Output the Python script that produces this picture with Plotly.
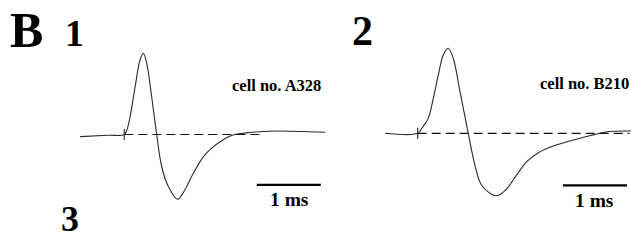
import plotly.graph_objects as go

# ---------------- data ----------------
# time in ms relative to stimulus/onset tick, amplitude in normalised units
cell_ids = ["A328", "B210"]
panel_labels = ["1", "2", "3"]
figure_letter = "B"
scale_label = "1 ms"

t1 = [-0.69, -0.26, 0.0, 0.04, 0.09, 0.17, 0.245, 0.297, 0.35, 0.428, 0.506,
      0.584, 0.688, 0.834, 0.948, 1.078, 1.234, 1.339, 1.495, 1.70, 1.91,
      2.12, 2.355, 3.14]
a1 = [-0.027, -0.01, 0.0, 0.056, 0.22, 0.60, 0.93, 1.015, 0.89, 0.47, 0.0,
      -0.40, -0.65, -0.81, -0.69, -0.485, -0.28, -0.19, -0.09, -0.006, 0.02,
      0.035, 0.044, 0.028]

t2 = [-0.51, 0.0, 0.07, 0.166, 0.244, 0.322, 0.40, 0.478, 0.556, 0.661,
      0.79, 0.895, 1.0, 1.22, 1.36, 1.547, 1.703, 1.911, 2.119,
      2.43, 2.744, 2.953, 3.33]
a2 = [0.0, 0.0, 0.07, 0.19, 0.4375, 0.73, 0.98, 1.0625, 0.9375, 0.52,
      0.0, -0.40, -0.65, -0.78, -0.72, -0.52, -0.355, -0.23, -0.16,
      -0.084, -0.02, 0.02, 0.029]

baseline_end = [2.12, 3.31]       # ms where the dashed zero line stops
scalebar_start = [2.07, 2.27]     # ms
scalebar_len = 1.0                # ms
scalebar_amp = [-0.63, -0.65]
tick_amp = [-0.07, 0.07]

# ---------------- layout constants ----------------
W, H = 631, 240
PX_MS = 64.0
PX_AMP = 80.0
onset_px = [124.3, 417.7]
base_px = [134.5, 133.3]
split_px = 340.0

FONT = "Liberation Serif, Times New Roman, serif"
TRACE_COL = "#2a2a2a"

fig = go.Figure()

panels = [(t1, a1, "x", "y"), (t2, a2, "x2", "y2")]
for i, (t, a, xa, ya) in enumerate(panels):
    # dashed zero line
    fig.add_trace(go.Scatter(x=[0, baseline_end[i]], y=[0, 0], mode="lines",
                             line=dict(color="#111", width=1.2, dash="9px,5px"),
                             xaxis=xa, yaxis=ya, hoverinfo="skip"))
    # waveform
    fig.add_trace(go.Scatter(x=t, y=a, mode="lines",
                             line=dict(color=TRACE_COL, width=1.1, shape="spline", smoothing=1.0),
                             xaxis=xa, yaxis=ya))
    # onset tick
    fig.add_trace(go.Scatter(x=[0, 0], y=tick_amp, mode="lines",
                             line=dict(color=TRACE_COL, width=1.1),
                             xaxis=xa, yaxis=ya, hoverinfo="skip"))
    # scale bar
    fig.add_trace(go.Scatter(x=[scalebar_start[i], scalebar_start[i] + scalebar_len],
                             y=[scalebar_amp[i]] * 2, mode="lines",
                             line=dict(color="#000", width=2.2),
                             xaxis=xa, yaxis=ya, hoverinfo="skip"))

ann = []
def txt(s, x, y, size):
    ann.append(dict(text=s, x=x / W, y=1 - y / H, xref="paper", yref="paper",
                    showarrow=False, xanchor="center", yanchor="middle",
                    font=dict(family=FONT, size=size, color="#000")))

txt("<b>%s</b>" % figure_letter, 26, 30, 50)
txt("<b>%s</b>" % panel_labels[0], 74, 33, 38)
txt("<b>%s</b>" % panel_labels[1], 362, 31, 42)
txt("<b>%s</b>" % panel_labels[2], 70, 218.5, 36)
txt("<b>cell no. %s</b>" % cell_ids[0], 276, 85, 16.5)
txt("<b>cell no. %s</b>" % cell_ids[1], 584, 83, 16.5)
txt("<b>%s</b>" % scale_label, 289, 199, 19.5)
txt("<b>%s</b>" % scale_label, 594, 200, 19.5)

d1 = [0, split_px / W]
d2 = [split_px / W, 1]
r1 = [(0 - onset_px[0]) / PX_MS, (split_px - onset_px[0]) / PX_MS]
r2 = [(split_px - onset_px[1]) / PX_MS, (W - onset_px[1]) / PX_MS]
ry1 = [(base_px[0] - H) / PX_AMP, base_px[0] / PX_AMP]
ry2 = [(base_px[1] - H) / PX_AMP, base_px[1] / PX_AMP]

ax = dict(visible=False, showgrid=False, zeroline=False, fixedrange=True)
fig.update_layout(
    width=W, height=H, margin=dict(l=0, r=0, t=0, b=0, pad=0),
    paper_bgcolor="white", plot_bgcolor="white", showlegend=False,
    xaxis=dict(domain=d1, range=r1, anchor="y", **ax),
    yaxis=dict(domain=[0, 1], range=ry1, anchor="x", **ax),
    xaxis2=dict(domain=d2, range=r2, anchor="y2", **ax),
    yaxis2=dict(domain=[0, 1], range=ry2, anchor="x2", **ax),
    annotations=ann,
)

fig.write_html("out.html", config=dict(displayModeBar=False),
               post_script="document.body.style.margin='0';document.body.style.overflow='hidden';")
